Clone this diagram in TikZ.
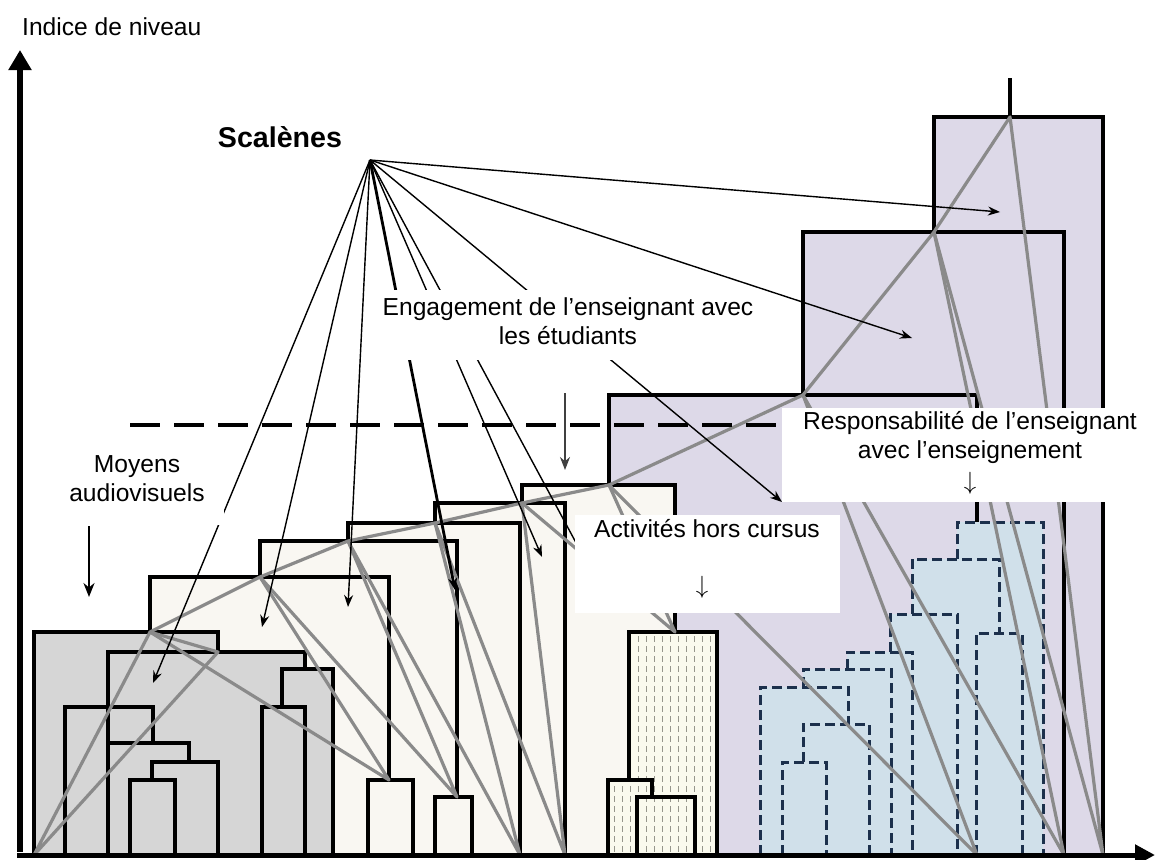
\documentclass[tikz,border=0pt]{standalone}
\usepackage{fontspec}
\setmainfont{Liberation Sans}
\usepackage{tikz}
\usetikzlibrary{arrows.meta}
\definecolor{purp}{RGB}{221,217,232}
\definecolor{cream}{RGB}{249,247,242}
\definecolor{greyfill}{RGB}{214,214,214}
\definecolor{bluefill}{RGB}{208,224,234}
\definecolor{stripefill}{RGB}{250,250,238}
\definecolor{stripegray}{RGB}{150,150,140}
\definecolor{dashnavy}{RGB}{28,48,76}
\definecolor{linkgray}{RGB}{138,138,138}

\begin{document}
\begin{tikzpicture}[x=1pt,y=-1pt,
  dendro/.style={line width=3.3pt},
  dashbox/.style={line width=3pt,dashnavy,dash pattern=on 10pt off 5pt},
  link/.style={line width=3.2pt,linkgray,line join=round},
  ray/.style={-{Stealth[length=12pt,width=9pt]},line width=1.4pt},
  txt/.style={font=\fontsize{24.6}{29}\selectfont,align=center,inner sep=0pt}]

  \useasboundingbox (0,0) rectangle (1155,859);

  % fills
  \fill[purp] (608,395) rectangle (977,855) (803,232) rectangle (1064,855)
    (934,117) rectangle (1103,855);
  \fill[bluefill] (957,522) rectangle (1043,855) (912,559) rectangle (999,855)
    (890,614) rectangle (957,855) (847,652) rectangle (912,855)
    (803,669) rectangle (891,855) (760,687) rectangle (848,855)
    (803,724) rectangle (869,855) (782,762) rectangle (826,855)
    (976,633) rectangle (1022,855);
  \fill[cream] (150,577) rectangle (389,855) (260,541) rectangle (457,855)
    (348,523) rectangle (520,855) (435,503) rectangle (565,855)
    (522,485) rectangle (675,855);
  \begin{scope}
    \clip (629,632) rectangle (717,855) (608,780) rectangle (652,855)
      (637,797) rectangle (695,855);
    \fill[stripefill] (600,600) rectangle (720,855);
    \foreach \x in {614,622,...,714}
      \draw[stripegray,line width=0.9pt,dash pattern=on 6pt off 4pt] (\x,636) -- (\x,855);
  \end{scope}
  \fill[greyfill] (34,632) rectangle (218,855) (108,652) rectangle (305,855)
    (282,669) rectangle (333,855);

  % dendrogram, grey group
  \draw[dendro] (34,855) -- (34,632) -- (218,632) -- (218,652);
  \draw[dendro] (108,855) -- (108,652) -- (305,652) -- (305,669);
  \draw[dendro] (282,707) -- (282,669) -- (333,669) -- (333,855);
  \draw[dendro] (262,855) -- (262,707) -- (305,707) -- (305,855);
  \draw[dendro] (65,855) -- (65,707) -- (153,707) -- (153,743);
  \draw[dendro] (108,743) -- (189,743) -- (189,762);
  \draw[dendro] (152,780) -- (152,762) -- (218,762) -- (218,855);
  \draw[dendro] (130,855) -- (130,780) -- (175,780) -- (175,855);
  % cream group
  \draw[dendro] (150,632) -- (150,577) -- (389,577) -- (389,780);
  \draw[dendro] (368,855) -- (368,780) -- (413,780) -- (413,855);
  \draw[dendro] (260,577) -- (260,541) -- (457,541) -- (457,797);
  \draw[dendro] (435,855) -- (435,797) -- (472,797) -- (472,855);
  \draw[dendro] (348,541) -- (348,523) -- (520,523) -- (520,855);
  \draw[dendro] (435,523) -- (435,503) -- (565,503) -- (565,855);
  \draw[dendro] (522,503) -- (522,485) -- (675,485) -- (675,632);
  \draw[dendro] (629,780) -- (629,632) -- (717,632) -- (717,855);
  \draw[dendro] (608,855) -- (608,780) -- (652,780) -- (652,797);
  \draw[dendro] (637,855) -- (637,797) -- (695,797) -- (695,855);
  % purple group
  \draw[dendro] (609,485) -- (609,395) -- (977,395) -- (977,522);
  \draw[dendro] (803,395) -- (803,232) -- (1064,232) -- (1064,855);
  \draw[dendro] (934,232) -- (934,117) -- (1103,117) -- (1103,855);
  \draw[dendro] (1010,117) -- (1010,78);
  % dashed blue group
  \draw[dashbox] (957,559) -- (957,522) -- (1043,522) -- (1043,855);
  \draw[dashbox] (912,614) -- (912,559) -- (999,559) -- (999,633);
  \draw[dashbox] (976,855) -- (976,633) -- (1022,633) -- (1022,855);
  \draw[dashbox] (890,652) -- (890,614) -- (957,614) -- (957,855);
  \draw[dashbox] (847,669) -- (847,652) -- (912,652) -- (912,855);
  \draw[dashbox] (803,687) -- (803,669) -- (891,669) -- (891,855);
  \draw[dashbox] (760,855) -- (760,687) -- (848,687) -- (848,724);
  \draw[dashbox] (803,762) -- (803,724) -- (869,724) -- (869,855);
  \draw[dashbox] (782,855) -- (782,762) -- (826,762) -- (826,855);

  % triangle corners
  \coordinate (g0) at (34,855);
  \coordinate (g1) at (150,632);   \coordinate (g1r) at (218,652);
  \coordinate (c1) at (260,577);   \coordinate (c1r) at (389,780);
  \coordinate (c2) at (348,541);   \coordinate (c2r) at (457,797);
  \coordinate (c3) at (435,523);   \coordinate (c3r) at (520,855);
  \coordinate (c4) at (522,503);   \coordinate (c4r) at (565,855);
  \coordinate (c5) at (609,485);   \coordinate (c5r) at (675,632);
  \coordinate (p1) at (803,395);   \coordinate (p1r) at (977,855);
  \coordinate (p2) at (934,232);   \coordinate (p2r) at (1064,855);
  \coordinate (root) at (1010,117); \coordinate (rootr) at (1103,855);

  \foreach \p/\l/\r in {g1/g0/g1r,c1/g1/c1r,c2/c1/c2r,c3/c2/c3r,c4/c3/c4r,
                        c5/c4/c5r,p1/c5/p1r,p2/p1/p2r,root/p2/rootr}
    \draw[link] (\l) -- (\p) -- (\r) -- (\l);

  % arrows from Scalenes
  \coordinate (scal) at (370,160);
  \coordinate (ta) at (153,683);
  \coordinate (tb) at (262,627);
  \coordinate (tc) at (348,607);
  \coordinate (td) at (455,590);
  \coordinate (te) at (542,557);
  \coordinate (tf) at (588,565);
  \coordinate (tg) at (782,502);
  \coordinate (th) at (912,338);
  \coordinate (ti) at (1000,212);
  \foreach \t in {ta,tb,tc,te,tf,tg,th,ti}
    \draw[ray] (scal) -- (\t);
  \draw[ray,line width=2.8pt] (scal) -- (td);

  \draw[line width=3.4pt,dash pattern=on 30pt off 14pt] (130,425) -- (782,425);

  % white label boxes
  \fill[white] (62,445) rectangle (224,525);
  \fill[white] (368,290) rectangle (762,360);
  \fill[white] (575,515) rectangle (840,613);
  \fill[white] (782,408) rectangle (1110,502);

  \node[txt] (moyens) at (137,479) {Moyens\\audiovisuels};
  \coordinate (moyA) at (89,526);
  \coordinate (moyB) at (89,597);
  \draw[-{Stealth[length=14pt,width=11pt]},line width=2.2pt] (moyA) -- (moyB);

  \node[txt] (engage) at (568,321) {Engagement de l’enseignant avec\\les étudiants};
  \coordinate (engA) at (565,393);
  \coordinate (engB) at (565,470);
  \draw[-{Stealth[length=13pt,width=10pt]},line width=1.5pt,black!75] (engA) -- (engB);

  \node[txt] (hors) at (707,529) {Activités hors cursus};
  \node[txt] (horsdown) at (702,587) {$\downarrow$};

  \node[txt] (respo) at (970,437) {Responsabilité de l’enseignant\\avec l’enseignement};
  \node[txt] (respodown) at (970,483) {$\downarrow$};

  \node[font=\bfseries\fontsize{28.6}{33}\selectfont,inner sep=0pt] (scaltxt) at (280,137) {Scalènes};
  \node[txt,anchor=west] (yname) at (22,27) {Indice de niveau};

  % axes
  \coordinate (orig) at (20,855);
  \coordinate (ytop) at (20,50);
  \coordinate (xend) at (1155,855);
  \draw[line width=6.5pt,-{Triangle[length=20pt,width=22pt]}] ([yshift=3pt]orig) -- (ytop);
  \draw[line width=5pt,-{Triangle[length=20pt,width=20pt]}] ([xshift=-3pt]orig) -- (xend);
\end{tikzpicture}
\end{document}
